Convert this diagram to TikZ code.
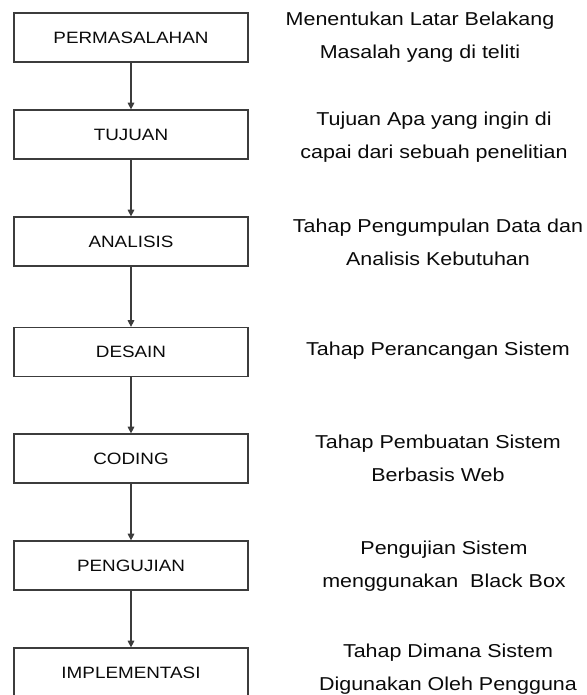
\documentclass[tikz,border=0pt]{standalone}
\usepackage{fontspec}
\setmainfont[FakeStretch=1.15]{Liberation Sans}
\usepackage{tikz}
\usetikzlibrary{arrows.meta}
\definecolor{edge}{RGB}{60, 60, 60}
\definecolor{ink}{RGB}{10, 10, 10}
\tikzset{%
    stage/.style={%
        draw=edge, line width=0.9pt, inner sep=0pt,
        minimum width=175.5pt, minimum height=36.75pt,
        font=\fontsize{12.3}{14}\selectfont, text=ink
    },
    note/.style={%
        align=center, inner sep=0pt,
        font=\fontsize{14}{24.75}\selectfont, text=ink
    },
    flow/.style={%
        draw=edge, line width=0.8pt,
        -{Triangle[length=5pt, width=5pt]}
    }
}

\begin{document}
\begin{tikzpicture}[x=0.75pt, y=0.75pt]

    \useasboundingbox (0, 0) rectangle (586, 695);
    \clip (0, 0) rectangle (586, 695);

    % Stages
    \node[stage] (permasalahan) at (131, 657.5) {PERMASALAHAN};
    \node[stage] (tujuan) at (131, 560.5) {TUJUAN};
    \node[stage] (analisis) at (131, 453.5) {ANALISIS};
    \node[stage] (desain) at (131, 343) {DESAIN};
    \node[stage] (coding) at (131, 236.5) {CODING};
    \node[stage] (pengujian) at (131, 129.5) {PENGUJIAN};
    \node[stage] (implementasi) at (131, 22.5) {IMPLEMENTASI};

    % Notes
    \node[note] (notemasalah) at (420, 658)
        {Menentukan Latar Belakang\\Masalah yang di teliti};
    \node[note] (notetujuan) at (434, 557.5)
        {Tujuan Apa yang ingin di\\capai dari sebuah penelitian};
    \node[note] (noteanalisis) at (438, 452.5)
        {Tahap Pengumpulan Data dan\\Analisis Kebutuhan};
    \node[note] (notedesain) at (438, 344)
        {Tahap Perancangan Sistem};
    \node[note] (notecoding) at (438, 236.5)
        {Tahap Pembuatan Sistem\\Berbasis Web};
    \node[note] (notepengujian) at (444, 128.5)
        {Pengujian Sistem\\menggunakan\ \ Black Box};
    \node[note] (noteimplementasi) at (448, 25.5)
        {Tahap Dimana Sistem\\Digunakan Oleh Pengguna};

    % Flow
    \draw[flow] (permasalahan) -- (tujuan);
    \draw[flow] (tujuan) -- (analisis);
    \draw[flow] (analisis) -- (desain);
    \draw[flow] (desain) -- (coding);
    \draw[flow] (coding) -- (pengujian);
    \draw[flow] (pengujian) -- (implementasi);

\end{tikzpicture}
\end{document}
